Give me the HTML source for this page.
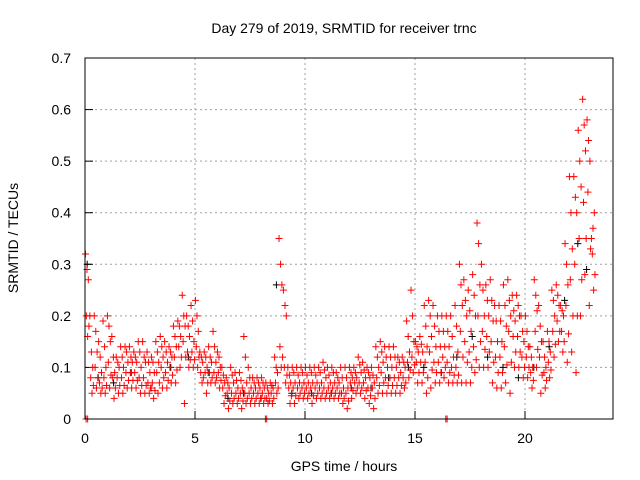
<!DOCTYPE html>
<html><head><meta charset="utf-8"><style>
html,body{margin:0;padding:0;background:#fff;}
svg{display:block;font-family:"Liberation Sans",sans-serif;}
</style></head><body>
<svg id="chart" width="640" height="480" xmlns="http://www.w3.org/2000/svg">
<rect width="640" height="480" fill="#fff"/>
<text x="344" y="33" font-size="14" text-anchor="middle" fill="#000">Day 279 of 2019, SRMTID for receiver trnc</text>
<text x="344" y="471" font-size="14" text-anchor="middle">GPS time / hours</text>
<text transform="translate(18,238) rotate(-90)" font-size="14" text-anchor="middle">SRMTID / TECUs</text>
<g id="grid"></g>
<g id="ticks"></g>
<g id="black"></g>
<g id="red"></g>
<rect x="85" y="58" width="528" height="361" fill="none" stroke="#000" stroke-width="1"/>
</svg>
<script>
const xTicks=[0,5,10,15,20];
const yTicks=[0,0.1,0.2,0.3,0.4,0.5,0.6,0.7];
const yTickLabels=["0","0.1","0.2","0.3","0.4","0.5","0.6","0.7"];
const tStep=0.2;
const redHi=[.32,.2,.2,.15,.19,.2,.16,.12,.14,.14,.14,.13,.15,.15,.13,.12,.15,.16,.15,.14,.18,.19,.24,.2,.22,.23,.13,.13,.14,.17,.13,.1,.08,.1,.09,.09,.16,.1,.08,.08,.08,.07,.07,.12,.35,.25,.1,.1,.1,.1,.1,.1,.1,.1,.11,.1,.1,.09,.1,.1,.1,.1,.12,.11,.1,.1,.14,.15,.14,.14,.14,.12,.12,.19,.25,.15,.16,.22,.23,.22,.2,.2,.2,.2,.22,.3,.27,.25,.28,.38,.3,.26,.27,.22,.22,.26,.27,.24,.24,.2,.2,.14,.27,.22,.15,.17,.25,.26,.22,.34,.47,.47,.56,.62,.58,.35];
const redUp=[.29,.13,.17,.12,.14,.18,.12,.11,.12,.13,.12,.12,.13,.12,.11,.11,.13,.14,.13,.13,.16,.18,.2,.18,.19,.2,.12,.12,.12,.14,.12,.085,.07,.085,.075,.075,.12,.08,.07,.07,.07,.06,.065,.1,.3,.22,.085,.09,.085,.09,.085,.09,.085,.09,.095,.085,.09,.08,.08,.08,.09,.09,.105,.095,.09,.085,.12,.13,.12,.12,.12,.11,.11,.16,.2,.14,.145,.18,.2,.18,.17,.17,.17,.16,.18,.26,.23,.21,.24,.34,.25,.23,.23,.19,.19,.22,.23,.21,.22,.17,.17,.12,.24,.18,.12,.15,.23,.24,.21,.3,.4,.43,.5,.57,.54,.37];
const redMid1=[.27,.1,.13,.09,.1,.15,.09,.1,.1,.11,.11,.11,.1,.11,.09,.09,.11,.12,.11,.12,.14,.16,.18,.16,.15,.17,.11,.1,.11,.11,.1,.07,.06,.07,.06,.06,.07,.06,.06,.06,.06,.05,.06,.09,.26,.2,.07,.07,.07,.07,.07,.07,.07,.07,.08,.07,.07,.07,.06,.06,.08,.08,.09,.08,.08,.07,.1,.11,.1,.1,.1,.09,.1,.13,.15,.13,.13,.14,.16,.14,.14,.14,.14,.12,.13,.22,.2,.17,.2,.26,.2,.2,.19,.15,.15,.18,.2,.19,.2,.15,.14,.1,.21,.15,.1,.13,.2,.22,.2,.26,.33,.4,.45,.52,.5,.4];
const redMid2=[.2,.08,.1,.07,.08,.11,.08,.08,.08,.09,.09,.09,.08,.08,.07,.07,.09,.1,.09,.1,.12,.14,.15,.13,.13,.14,.09,.09,.09,.09,.09,.06,.05,.05,.05,.05,.05,.05,.05,.05,.05,.04,.05,.07,.14,.1,.06,.06,.06,.06,.06,.06,.06,.06,.06,.06,.06,.06,.05,.05,.07,.07,.07,.07,.06,.06,.08,.09,.08,.08,.08,.08,.08,.11,.12,.11,.11,.11,.13,.11,.11,.12,.11,.1,.1,.17,.15,.13,.14,.2,.17,.16,.15,.12,.12,.14,.17,.16,.16,.12,.12,.09,.17,.12,.09,.11,.17,.19,.17,.22,.27,.3,.35,.42,.44,.32];
const redDown=[.18,.065,.08,.06,.065,.085,.06,.065,.065,.075,.075,.075,.065,.065,.06,.055,.07,.08,.075,.085,.095,.12,.12,.115,.115,.12,.08,.07,.08,.08,.075,.045,.035,.04,.04,.035,.04,.04,.04,.04,.04,.035,.04,.06,.12,.085,.045,.045,.05,.05,.05,.045,.05,.05,.05,.05,.05,.05,.04,.035,.055,.06,.06,.055,.045,.04,.065,.07,.065,.065,.065,.065,.07,.095,.105,.09,.09,.08,.095,.09,.09,.1,.09,.085,.085,.12,.11,.1,.115,.15,.135,.13,.11,.09,.09,.105,.11,.13,.13,.1,.1,.075,.135,.085,.075,.095,.145,.17,.15,.165,.2,.2,.27,.35,.33,.28];
const redLo=[.16,.05,.06,.05,.05,.06,.04,.05,.05,.06,.06,.06,.05,.05,.05,.04,.05,.06,.06,.07,.07,.1,.03,.1,.1,.1,.07,.05,.07,.07,.06,.03,.02,.03,.03,.02,.03,.03,.03,.03,.03,.03,.03,.05,.1,.07,.03,.03,.04,.04,.04,.03,.04,.04,.04,.04,.04,.04,.03,.02,.04,.05,.05,.04,.03,.02,.05,.05,.05,.05,.05,.05,.06,.08,.09,.07,.07,.05,.06,.07,.07,.08,.07,.07,.07,.07,.07,.07,.09,.1,.1,.1,.07,.06,.06,.07,.05,.1,.1,.08,.08,.06,.1,.05,.06,.08,.12,.15,.13,.11,.13,.09,.2,.28,.22,.25];
const blackT=[0.1,0.6,1.3,2.1,3.0,3.9,4.7,5.6,6.5,7.2,8.0,8.7,9.4,10.3,11.2,12.1,13.0,13.8,14.7,15.4,16.2,16.9,17.6,18.3,19.0,19.7,20.4,21.1,21.8,22.4,22.8];
const blackV=[.3,.08,.07,.09,.06,.1,.12,.09,.04,.05,.04,.26,.05,.05,.05,.06,.06,.08,.1,.1,.09,.12,.16,.12,.1,.08,.1,.14,.23,.34,.29];
const zeroT=[0.05,0.12,8.2,8.26,16.4,16.46];
const zeroV=[0,0,0,0,0,0];
const X0=85,PXH=22,Y0=419,PXV=515.7;
function sx(t){return X0+t*PXH;}
function sy(v){return Y0-v*PXV;}
const NS="http://www.w3.org/2000/svg";
function mk(tag,attrs,parent){const e=document.createElementNS(NS,tag);for(const k in attrs)e.setAttribute(k,attrs[k]);parent.appendChild(e);return e;}
const grid=document.getElementById('grid'),ticks=document.getElementById('ticks');
xTicks.forEach(t=>{
  if(t>0){const g=mk('line',{x1:sx(t),x2:sx(t),y1:58,y2:419,stroke:'#a0a0a0','stroke-dasharray':'2,3'},grid);
  
  }
  const l=mk('line',{x1:sx(t),x2:sx(t),y1:419,y2:411,stroke:'#000'},ticks);
  
  
  const tx=mk('text',{x:sx(t),y:443,'font-size':14,'text-anchor':'middle'},ticks);tx.textContent=String(t);
  
  
});
yTicks.forEach((v,i)=>{
  if(v>0&&v<0.7){const g=mk('line',{x1:85,x2:613,y1:sy(v),y2:sy(v),stroke:'#a0a0a0','stroke-dasharray':'2,3'},grid);
  
  }
  const l=mk('line',{x1:85,x2:93,y1:sy(v),y2:sy(v),stroke:'#000'},ticks);
  
  
  const tx=mk('text',{x:71,y:sy(v)+5,'font-size':14,'text-anchor':'end'},ticks);tx.textContent=yTickLabels[i];
  
  
});
function plus(g,t,v,col){
  const x=sx(t),y=sy(v);
  const p=mk('path',{d:`M${x-3.5},${y}H${x+3.5}M${x},${y-3.5}V${y+3.5}`,stroke:col,'stroke-width':1,fill:'none'},g);
  
  
}
const bg=document.getElementById('black'),rg=document.getElementById('red');
blackT.forEach((t,i)=>plus(bg,t,blackV[i],'#000'));
const phases=[0.1,0.45,0.75,0.3,0.9,0.6];
[redHi,redUp,redMid1,redMid2,redDown,redLo].forEach((arr,k)=>{
  arr.forEach((v,i)=>{
    plus(rg,(i+phases[k])*tStep,v,'#f00');
  });
});
zeroT.forEach((t,i)=>plus(rg,t,zeroV[i],'#f00'));
</script>
</body></html>
